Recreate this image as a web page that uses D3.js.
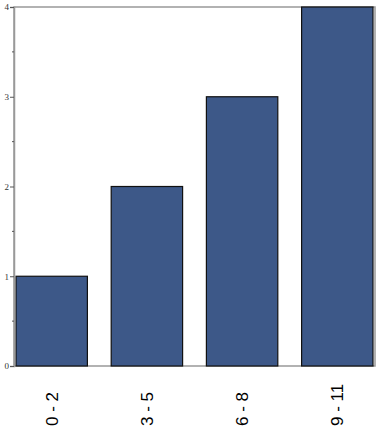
<!DOCTYPE html>
<html>
<head>
<meta charset="utf-8">
<script src="https://cdn.jsdelivr.net/npm/d3@7"></script>
<style>
  body { margin: 0; background: #fff; }
  svg { display: block; }
</style>
</head>
<body>
<div id="chart"></div>
<script>
// data
let categories = ["0 - 2", "3 - 5", "6 - 8", "9 - 11"];
let counts = [1, 2, 3, 4];
let yTicks = [0, 1, 2, 3, 4];
let yMinorTicks = [0.5, 1.5, 2.5, 3.5];

let width = 377, height = 436;
let plotLeft = 14, plotRight = 375, plotTop = 7, plotBottom = 366;

let svg = d3.select("#chart").append("svg")
    .attr("width", width)
    .attr("height", height);

let x = d3.scaleBand()
    .domain(categories)
    .range([plotLeft + 2, plotRight - 2])
    .paddingInner(0.25)
    .paddingOuter(0);

let y = d3.scaleLinear()
    .domain([0, 4])
    .range([plotBottom, plotTop]);

// frame
svg.append("rect")
    .attr("x", plotLeft)
    .attr("y", plotTop)
    .attr("width", plotRight - plotLeft)
    .attr("height", plotBottom - plotTop)
    .attr("fill", "none")
    .attr("stroke", "#999")
    .attr("stroke-width", 1.5);

// bars
svg.selectAll("rect.bar")
    .data(counts)
    .enter()
    .append("rect")
    .attr("class", "bar")
    .attr("x", (d, i) => x(categories[i]))
    .attr("y", d => y(d))
    .attr("width", x.bandwidth())
    .attr("height", d => y(0) - y(d))
    .attr("fill", "#3d5888")
    .attr("stroke", "#111")
    .attr("stroke-width", 1.2);

// y axis
let yAxis = d3.axisLeft(y)
    .tickValues(yTicks)
    .tickFormat(d3.format("d"))
    .tickSize(4)
    .tickPadding(1);
let ya = svg.append("g")
    .attr("transform", `translate(${plotLeft},0)`)
    .call(yAxis);
ya.select(".domain").attr("stroke", "#999").attr("stroke-width", 1.5);
ya.selectAll(".tick line").attr("stroke", "#555");
ya.selectAll(".tick text")
    .attr("font-family", "Liberation Serif, serif")
    .attr("font-size", 9)
    .attr("fill", "#333");

svg.append("g").selectAll("line")
    .data(yMinorTicks)
    .enter()
    .append("line")
    .attr("x1", plotLeft - 2)
    .attr("x2", plotLeft)
    .attr("y1", d => y(d))
    .attr("y2", d => y(d))
    .attr("stroke", "#555");

// x labels
svg.append("g").selectAll("text")
    .data(categories)
    .enter()
    .append("text")
    .attr("transform", d => `translate(${x(d) + x.bandwidth() / 2 + 6},426) rotate(-90)`)
    .attr("text-anchor", "start")
    .attr("font-family", "Liberation Sans, Arial, sans-serif")
    .attr("font-size", 17)
    .attr("fill", "#000")
    .text(d => d);
</script>
</body>
</html>
